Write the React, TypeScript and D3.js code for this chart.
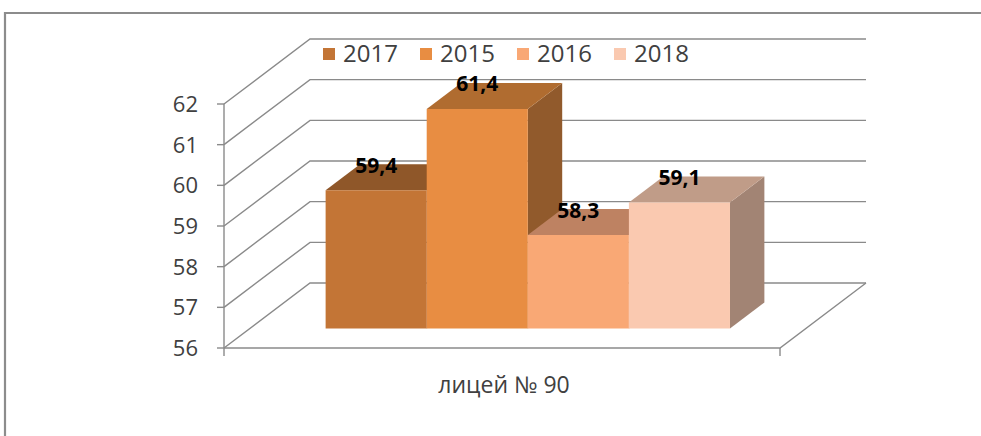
import React from "react";
import * as d3 from "d3";

const categories = ["лицей № 90"];
const seriesNames = ["2017", "2015", "2016", "2018"];
const seriesValues = [59.4, 61.4, 58.3, 59.1];
const valueLabels = ["59,4", "61,4", "58,3", "59,1"];
const yTicks = [56, 57, 58, 59, 60, 61, 62];
const yTickLabels = ["56", "57", "58", "59", "60", "61", "62"];
const frontColors = ["#C37536", "#E88D42", "#F9A875", "#FAC9B0"];
const topColors = ["#8F5729", "#B06C30", "#BE8262", "#C09C88"];
const sideColors = ["#7A4A22", "#915A2C", "#A06A50", "#A28474"];

const W = 981;
const H = 436;
const X0 = 224;
const X1 = 780;
const DX = 86;
const DY = -65;
const D_FRONT = 0.3;
const D_BACK = 0.7;
const GRID = "#8a8a8a";
const FONT = "'Open Sans', 'Liberation Sans', sans-serif";

export default function App() {
  const y = d3.scaleLinear().domain([56, 62]).range([348, 104]);
  const cat = d3.scaleBand().domain(categories).range([X0, X1]);
  const xs = d3
    .scaleBand()
    .domain(seriesNames)
    .range([cat(categories[0]) as number, (cat(categories[0]) as number) + cat.bandwidth()])
    .paddingInner(0)
    .paddingOuter(0.75);

  const P = (x: number, v: number, d: number): [number, number] => [x + d * DX, y(v) + d * DY];
  const poly = (pts: [number, number][]) => pts.map((p) => p.join(",")).join(" ");

  const legendX = [323, 420, 517, 614];

  return (
    <svg
      width={W}
      height={H}
      style={{ position: "absolute", left: 0, top: 0, background: "#fff" }}
    >
      <rect x={0} y={0} width={W} height={H} fill="#fff" />
      {/* outer border */}
      <path d={`M5,${H} V13 H${W}`} fill="none" stroke="#8c8c8c" strokeWidth={2.2} />

      {/* gridlines: side wall diagonal + back wall horizontal */}
      {yTicks.map((t) => {
        const a = P(X0, t, 0);
        const b = P(X0, t, 1);
        const c = P(X1, t, 1);
        return (
          <polyline
            key={"g" + t}
            points={poly([a, b, c])}
            fill="none"
            stroke={GRID}
            strokeWidth={1.4}
          />
        );
      })}
      {/* floor right edge and front edge */}
      <polyline
        points={poly([P(X0, 56, 0), P(X1, 56, 0), P(X1, 56, 1)])}
        fill="none"
        stroke={GRID}
        strokeWidth={1.4}
      />
      {/* vertical axis */}
      <line x1={X0} x2={X0} y1={y(62)} y2={y(56) + 8} stroke={GRID} strokeWidth={1.4} />
      <line x1={X1} x2={X1} y1={y(56)} y2={y(56) + 8} stroke={GRID} strokeWidth={1.4} />
      {yTicks.map((t, i) => (
        <g key={"t" + t}>
          <line x1={X0 - 7} x2={X0} y1={y(t)} y2={y(t)} stroke={GRID} strokeWidth={1.4} />
          <text
            x={198}
            y={y(t)}
            dy="0.36em"
            textAnchor="end"
            fontFamily={FONT}
            fontSize={22}
            fill="#404040"
          >
            {yTickLabels[i]}
          </text>
        </g>
      ))}

      {/* bars */}
      {seriesNames.map((s, i) => {
        const xl = xs(s) as number;
        const xr = xl + xs.bandwidth();
        const v = seriesValues[i];
        const front = [P(xl, 56, D_FRONT), P(xr, 56, D_FRONT), P(xr, v, D_FRONT), P(xl, v, D_FRONT)] as [number, number][];
        const top = [P(xl, v, D_FRONT), P(xr, v, D_FRONT), P(xr, v, D_BACK), P(xl, v, D_BACK)] as [number, number][];
        const side = [P(xr, 56, D_FRONT), P(xr, 56, D_BACK), P(xr, v, D_BACK), P(xr, v, D_FRONT)] as [number, number][];
        return (
          <g key={"b" + s}>
            <polygon points={poly(side)} fill={sideColors[i]} />
            <polygon points={poly(top)} fill={topColors[i]} />
            <polygon points={poly(front)} fill={frontColors[i]} />
          </g>
        );
      })}

      {/* value labels */}
      {seriesNames.map((s, i) => {
        const xl = xs(s) as number;
        const [fx, fy] = P(xl + xs.bandwidth() / 2, seriesValues[i], D_FRONT);
        return (
          <text
            key={"l" + s}
            x={fx}
            y={fy - 25}
            dy="0.36em"
            textAnchor="middle"
            fontFamily={FONT}
            fontWeight="bold"
            fontSize={21}
            fill="#000"
          >
            {valueLabels[i]}
          </text>
        );
      })}

      {/* category label */}
      <text
        x={(cat(categories[0]) as number) + cat.bandwidth() / 2 + 2}
        y={385}
        dy="0.36em"
        textAnchor="middle"
        fontFamily={FONT}
        fontSize={23}
        fill="#404040"
      >
        {categories[0]}
      </text>

      {/* legend */}
      {seriesNames.map((s, i) => (
        <g key={"lg" + s}>
          <rect x={legendX[i]} y={48} width={12} height={12} fill={frontColors[i]} />
          <text
            x={legendX[i] + 20}
            y={53}
            dy="0.36em"
            fontFamily={FONT}
            fontSize={24}
            fill="#404040"
          >
            {s}
          </text>
        </g>
      ))}
    </svg>
  );
}
